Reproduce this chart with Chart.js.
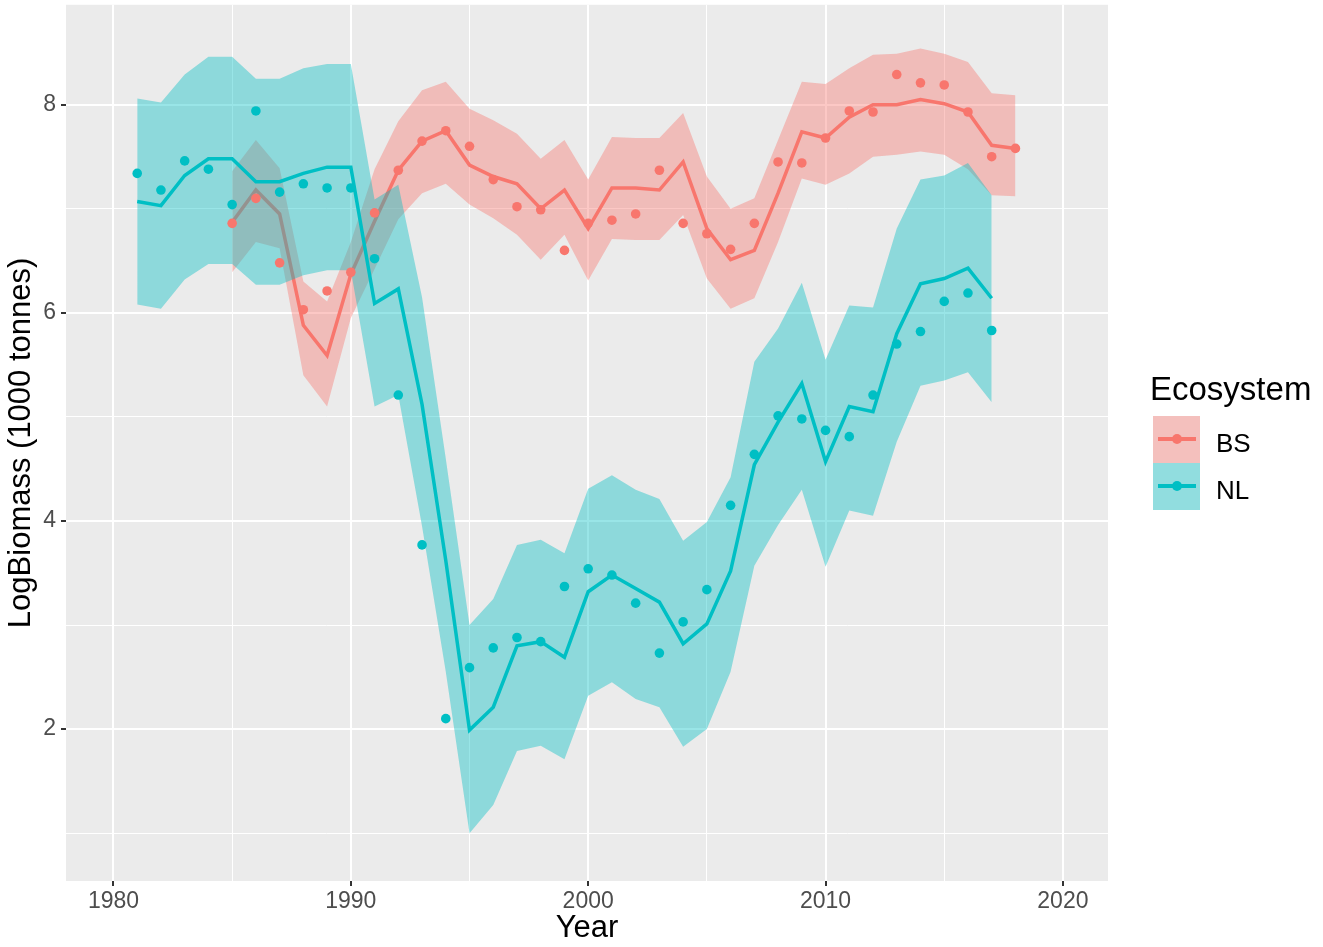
<!DOCTYPE html>
<html lang="en">
<head>
<meta charset="UTF-8">
<title>LogBiomass</title>
<script src="https://cdn.jsdelivr.net/npm/chart.js"></script>
<style>
  body { margin: 0; background: #fff; }
  #wrap { position: relative; width: 1323px; height: 947px; font-family: "Liberation Sans", Arial, sans-serif; }
  .lg { position: absolute; color: #000; line-height: 1; white-space: nowrap; }
  .key { position: absolute; left: 1153px; width: 47px; height: 47px; background: #f2f2f2; }
  .key .fillk { position: absolute; left: 0; top: 0; right: 0; bottom: 0; }
  .key .ln { position: absolute; left: 5px; width: 38px; height: 4px; top: 21px; }
  .key .pt { position: absolute; left: 19px; top: 18px; width: 10px; height: 10px; border-radius: 50%; }
</style>
</head>
<body>
<div id="wrap">
  <canvas id="grafico" width="1323" height="947"></canvas>
  <div class="lg" style="left:1150px; top:372px; font-size:33px;">Ecosystem</div>
  <div class="key" style="top:416px;">
    <div class="fillk" style="background: rgba(248,118,109,0.4);"></div>
    <div class="ln" style="background:#F8766D;"></div>
    <div class="pt" style="background:#F8766D;"></div>
  </div>
  <div class="key" style="top:463px;">
    <div class="fillk" style="background: rgba(0,191,196,0.4);"></div>
    <div class="ln" style="background:#00BFC4;"></div>
    <div class="pt" style="background:#00BFC4;"></div>
  </div>
  <div class="lg" style="left:1216px; top:430px; font-size:26px;">BS</div>
  <div class="lg" style="left:1216px; top:477px; font-size:26px;">NL</div>
</div>

<script>
// dados
var bsYears = [1985, 1986, 1987, 1988, 1989, 1990, 1991, 1992, 1993, 1994, 1995, 1996, 1997, 1998, 1999, 2000, 2001,
  2002, 2003, 2004, 2005, 2006, 2007, 2008, 2009, 2010, 2011, 2012, 2013, 2014, 2015, 2016, 2017, 2018];
var bsObs = [6.86, 7.10, 6.48, 6.03, 6.21, 6.39, 6.96, 7.37, 7.65, 7.75, 7.60, 7.28, 7.02, 6.99, 6.60, 6.86, 6.89,
  6.95, 7.37, 6.86, 6.76, 6.61, 6.86, 7.45, 7.44, 7.68, 7.94, 7.93, 8.29, 8.21, 8.19, 7.93, 7.50, 7.58];
var bsFit = [6.87, 7.18, 6.95, 5.88, 5.59, 6.37, 6.88, 7.37, 7.65, 7.75, 7.42, 7.31, 7.24, 7.00, 7.18, 6.81, 7.20,
  7.20, 7.18, 7.45, 6.81, 6.51, 6.60, 7.15, 7.74, 7.68, 7.88, 8.00, 8.00, 8.05, 8.01, 7.93, 7.61, 7.58];
var bsUpper = [7.36, 7.66, 7.39, 6.30, 6.11, 6.68, 7.38, 7.84, 8.14, 8.22, 7.96, 7.85, 7.72, 7.48, 7.66, 7.28, 7.69,
  7.68, 7.68, 7.92, 7.31, 7.00, 7.10, 7.66, 8.22, 8.20, 8.35, 8.48, 8.49, 8.54, 8.49, 8.41, 8.11, 8.09];
var bsLower = [6.39, 6.68, 6.62, 5.40, 5.10, 5.95, 6.42, 6.90, 7.15, 7.24, 7.04, 6.91, 6.75, 6.51, 6.75, 6.31, 6.71,
  6.70, 6.70, 6.94, 6.33, 6.04, 6.14, 6.68, 7.29, 7.23, 7.34, 7.50, 7.52, 7.55, 7.52, 7.38, 7.13, 7.12];

var nlYears = [1981, 1982, 1983, 1984, 1985, 1986, 1987, 1988, 1989, 1990, 1991, 1992, 1993, 1994, 1995, 1996, 1997,
  1998, 1999, 2000, 2001, 2002, 2003, 2004, 2005, 2006, 2007, 2008, 2009, 2010, 2011, 2012, 2013, 2014, 2015, 2016, 2017];
var nlObs = [7.34, 7.18, 7.46, 7.38, 7.04, 7.94, 7.16, 7.24, 7.20, 7.20, 6.52, 5.21, 3.77, 2.10, 2.59, 2.78, 2.88,
  2.84, 3.37, 3.54, 3.48, 3.21, 2.73, 3.03, 3.34, 4.15, 4.64, 5.01, 4.98, 4.87, 4.81, 5.21, 5.70, 5.82, 6.11, 6.19, 5.83];
var nlFit = [7.07, 7.03, 7.32, 7.48, 7.48, 7.26, 7.26, 7.34, 7.40, 7.40, 6.09, 6.23, 5.12, 3.62, 1.99, 2.21, 2.80,
  2.84, 2.69, 3.32, 3.48, 3.35, 3.22, 2.82, 3.01, 3.52, 4.54, 4.95, 5.32, 4.57, 5.10, 5.05, 5.80, 6.28, 6.33, 6.43, 6.14];
var nlUpper = [8.06, 8.02, 8.29, 8.46, 8.46, 8.25, 8.25, 8.35, 8.39, 8.39, 7.09, 7.23, 6.15, 4.60, 3.00, 3.25, 3.77,
  3.82, 3.69, 4.31, 4.44, 4.30, 4.21, 3.81, 3.99, 4.42, 5.53, 5.85, 6.29, 5.55, 6.07, 6.05, 6.81, 7.28, 7.32, 7.44, 7.13];
var nlLower = [6.08, 6.04, 6.32, 6.47, 6.47, 6.27, 6.27, 6.36, 6.41, 6.41, 5.10, 5.21, 3.95, 2.55, 1.00, 1.27, 1.79,
  1.84, 1.71, 2.32, 2.45, 2.29, 2.21, 1.83, 2.00, 2.55, 3.57, 3.96, 4.30, 3.56, 4.10, 4.05, 4.76, 5.30, 5.35, 5.43, 5.14];

var xTickLabels = [1980, 1990, 2000, 2010, 2020];
var xMinorTicks = [1985, 1995, 2005, 2015];
var yTickLabels = [2, 4, 6, 8];
var yMinorTicks = [1, 3, 5, 7];

var corBS = '#F8766D';
var corNL = '#00BFC4';

function pontos(anos, valores) {
  return anos.map(function (a, i) { return { x: a, y: valores[i] }; });
}

function linha(anos, valores, cor, ordem) {
  return {
    data: pontos(anos, valores), borderColor: cor, borderWidth: 3.5, pointRadius: 0,
    fill: false, tension: 0, order: ordem
  };
}

function faixa(anos, valores, ordem, fundo) {
  return {
    data: pontos(anos, valores), borderColor: 'rgba(0,0,0,0)', borderWidth: 0, pointRadius: 0,
    tension: 0, order: ordem, fill: fundo ? '-1' : false, backgroundColor: fundo || 'rgba(0,0,0,0)'
  };
}

function marcas(anos, valores, cor) {
  return {
    data: pontos(anos, valores), showLine: false, pointRadius: 4.8, pointBackgroundColor: cor,
    pointBorderWidth: 0, borderColor: cor, order: 0
  };
}

var painel = {
  id: 'painel',
  beforeDraw: function (chart) {
    var c = chart.ctx, a = chart.chartArea;
    c.save();
    c.fillStyle = '#ffffff';
    c.fillRect(0, 0, chart.width, chart.height);
    c.fillStyle = '#EBEBEB';
    c.fillRect(a.left, a.top, a.right - a.left, a.bottom - a.top);
    c.restore();
  }
};

var fonte = '"Liberation Sans", Arial, sans-serif';

function eixoTicks(maiores, menores) {
  return function (scale) {
    scale.ticks = maiores.concat(menores).sort(function (a, b) { return a - b; })
      .map(function (v) { return { value: v }; });
  };
}

var ctx = document.getElementById('grafico').getContext('2d');
var grafico = new Chart(ctx, {
  type: 'line',
  data: {
    datasets: [
      faixa(bsYears, bsUpper, 4, null),
      faixa(bsYears, bsLower, 4, 'rgba(248,118,109,0.4)'),
      linha(bsYears, bsFit, corBS, 3),
      faixa(nlYears, nlUpper, 2, null),
      faixa(nlYears, nlLower, 2, 'rgba(0,191,196,0.4)'),
      linha(nlYears, nlFit, corNL, 1),
      marcas(bsYears, bsObs, corBS),
      marcas(nlYears, nlObs, corNL)
    ]
  },
  options: {
    responsive: false,
    animation: false,
    devicePixelRatio: 1,
    layout: { padding: { top: 0, right: 215, left: 0, bottom: 0 } },
    plugins: { legend: { display: false }, tooltip: { enabled: false } },
    scales: {
      x: {
        type: 'linear', min: 1978.0, max: 2021.9,
        afterBuildTicks: eixoTicks(xTickLabels, xMinorTicks),
        afterFit: function (s) { s.height = 66; s.paddingLeft = 0; s.paddingRight = 0; },
        border: { display: false },
        grid: {
          color: '#ffffff',
          lineWidth: function (c) { return xTickLabels.indexOf(c.tick.value) >= 0 ? 2 : 1; },
          tickColor: function (c) { return xTickLabels.indexOf(c.tick.value) >= 0 ? '#333333' : 'rgba(0,0,0,0)'; },
          tickLength: 5, tickWidth: 2
        },
        ticks: {
          autoSkip: false, maxRotation: 0, padding: 2, color: '#4D4D4D',
          font: { family: fonte, size: 23 },
          callback: function (v) { return xTickLabels.indexOf(v) >= 0 ? String(v) : ''; }
        },
        title: {
          display: true, text: 'Year', color: '#000', padding: { top: 0, bottom: 0 },
          font: { family: fonte, size: 31 }
        }
      },
      y: {
        type: 'linear', min: 0.54, max: 8.96,
        afterBuildTicks: eixoTicks(yTickLabels, yMinorTicks),
        afterFit: function (s) { s.width = 66; s.paddingTop = 0; s.paddingBottom = 0; },
        border: { display: false },
        grid: {
          color: '#ffffff',
          lineWidth: function (c) { return yTickLabels.indexOf(c.tick.value) >= 0 ? 2 : 1; },
          tickColor: function (c) { return yTickLabels.indexOf(c.tick.value) >= 0 ? '#333333' : 'rgba(0,0,0,0)'; },
          tickLength: 5, tickWidth: 2
        },
        ticks: {
          autoSkip: false, padding: 5, color: '#4D4D4D',
          font: { family: fonte, size: 23 },
          callback: function (v) { return yTickLabels.indexOf(v) >= 0 ? String(v) : ''; }
        },
        title: {
          display: true, text: 'LogBiomass (1000 tonnes)', color: '#000', padding: { top: 3, bottom: 0 },
          font: { family: fonte, size: 31 }
        }
      }
    }
  },
  plugins: [painel]
});
</script>
</body>
</html>
